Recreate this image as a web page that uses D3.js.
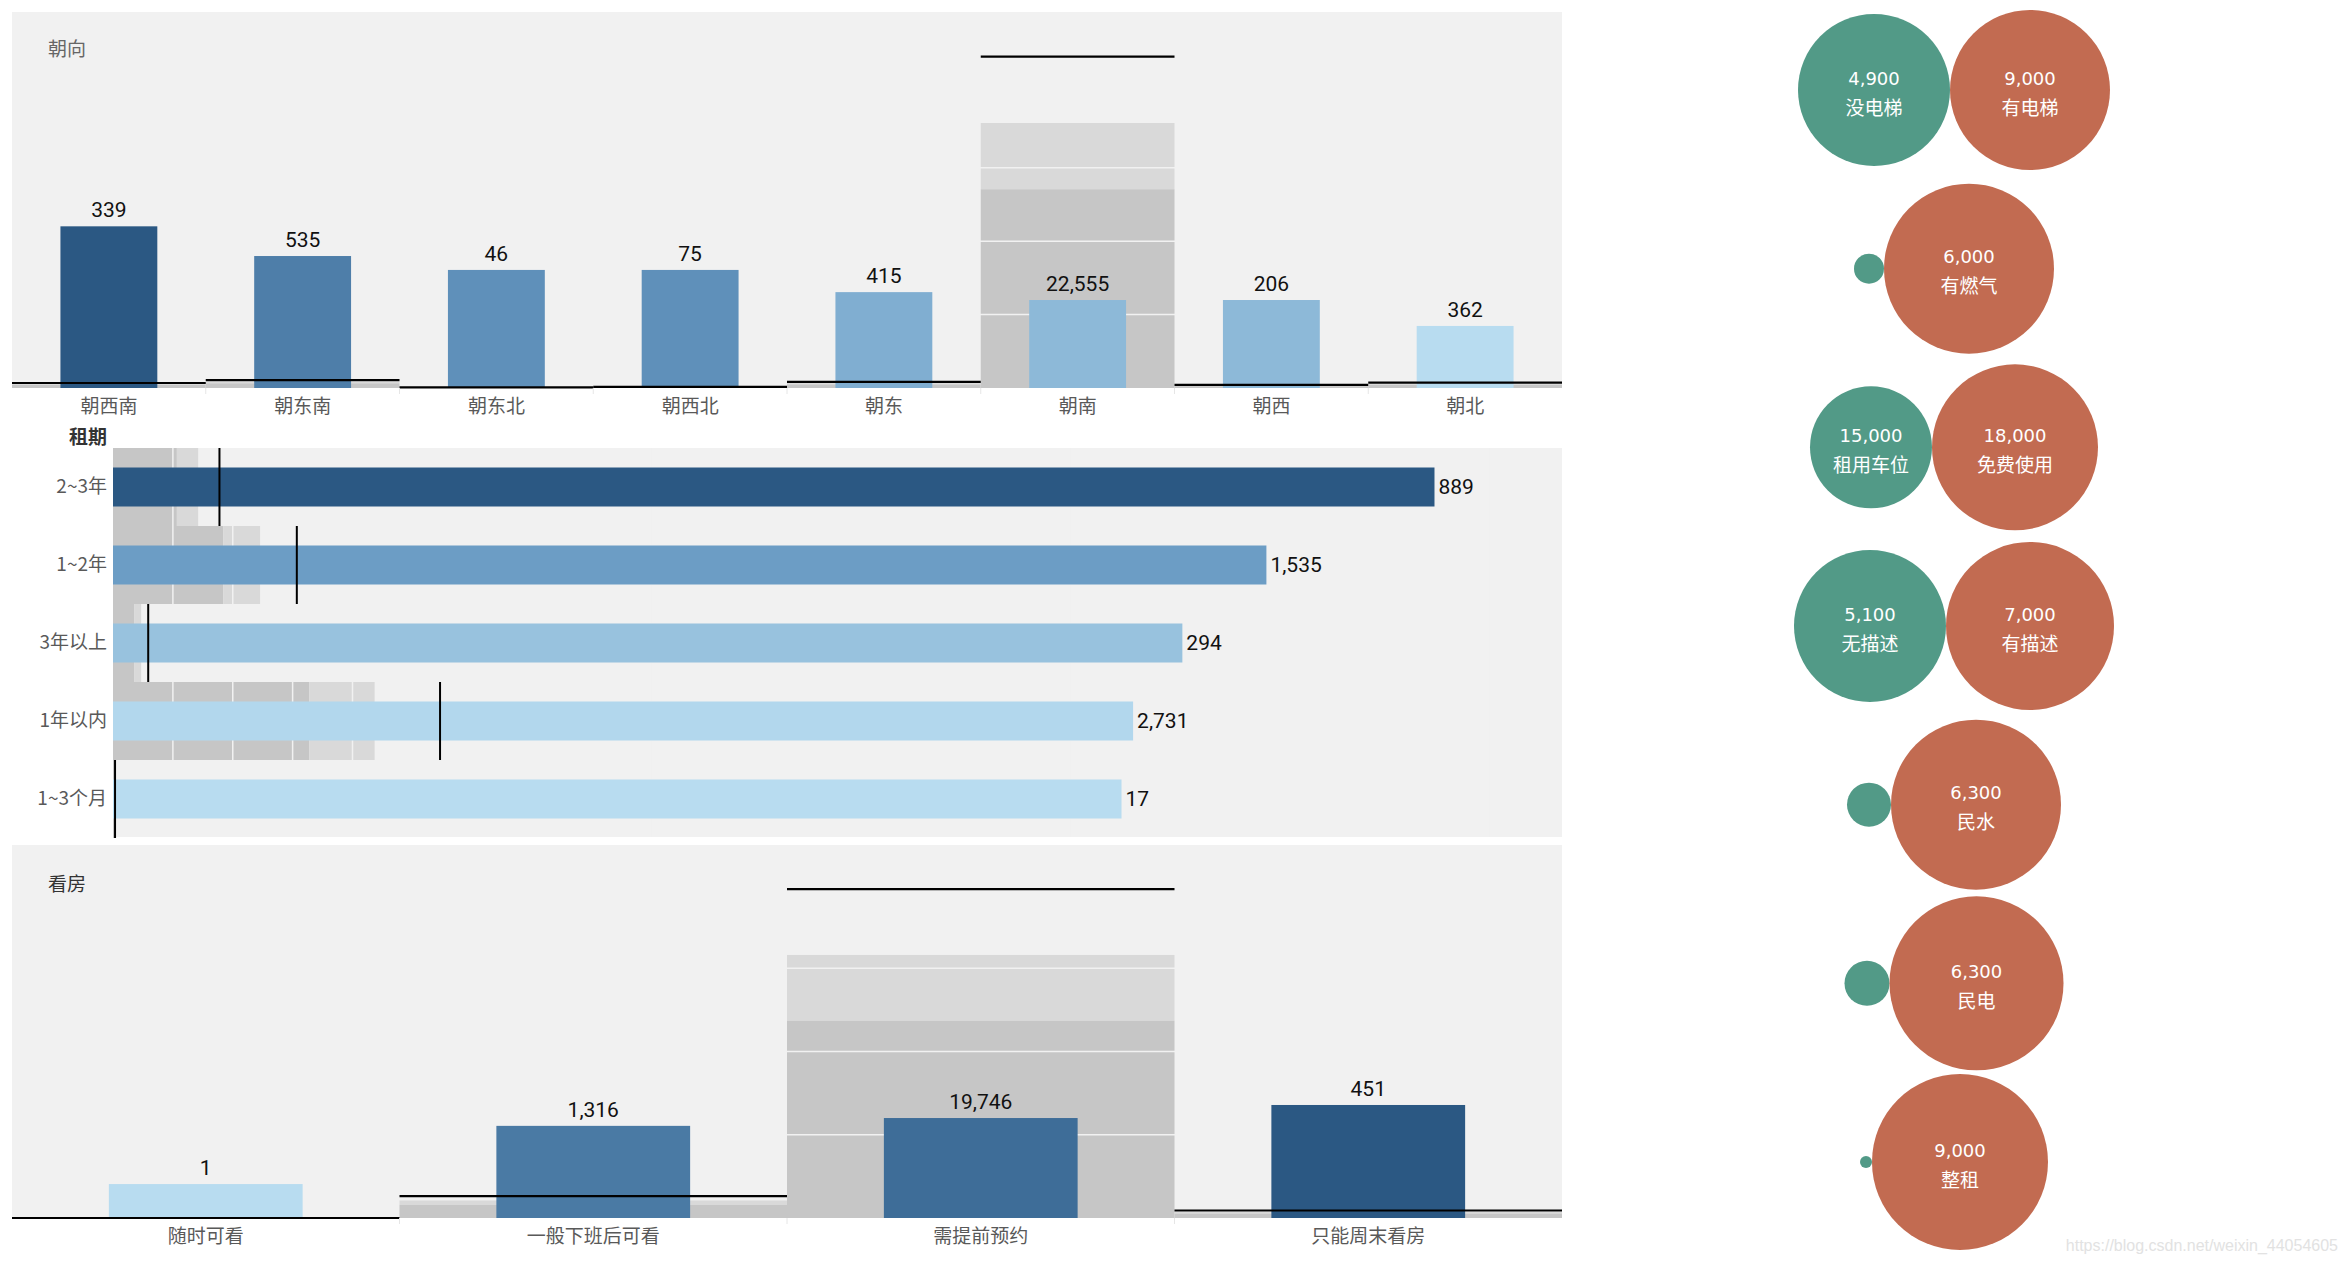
<!DOCTYPE html>
<html>
<head>
<meta charset="utf-8">
<script src="https://cdn.jsdelivr.net/npm/d3@7"></script>
<style>
  html, body { margin: 0; padding: 0; background: #ffffff; }
  svg { display: block; }
</style>
</head>
<body>
<svg id="chart" width="2349" height="1262"></svg>
<script>
// ---------------- DATA ----------------
// 朝向 (orientation)
const orientCats  = ['朝西南','朝东南','朝东北','朝西北','朝东','朝南','朝西','朝北'];
const orientCount = [339, 535, 46, 75, 415, 22555, 206, 362];          // labels / reference line
const orientRent  = [2150, 1755, 1570, 1570, 1275, 1170, 1170, 825];   // bar measure

// 租期 (lease term)
const termCats  = ['2~3年','1~2年','3年以上','1年以内','1~3个月'];
const termCount = [889, 1535, 294, 2731, 17];
const termRent  = [4560, 3980, 3690, 3520, 3480];

// 看房 (viewing)
const viewCats  = ['随时可看','一般下班后可看','需提前预约','只能周末看房'];
const viewCount = [1, 1316, 19746, 451];
const viewRent  = [455, 1235, 1340, 1515];

// bubbles
const bubbleRows   = ['电梯','燃气','车位','描述','水','电','租赁方式'];
const tealLabels   = ['没电梯','无燃气','租用车位','无描述','商水','商电','合租'];
const tealValues   = [4900, null, 15000, 5100, null, null, null];
const tealSizes    = [18650, 726, 12010, 18650, 1563, 1634, 116];
const orangeLabels = ['有电梯','有燃气','免费使用','有描述','民水','民电','整租'];
const orangeValues = [9000, 6000, 18000, 7000, 6300, 6300, 9000];
const orangeSizes  = [20660, 23325, 22240, 22780, 23325, 24435, 25000];

// ---------------- STYLE ----------------
const PANEL_BG = '#f1f1f1', BAND_DARK = '#c6c6c6', BAND_LIGHT = '#d9d9d9', GRID = '#f1f1f1';
const CJK = '"Noto Sans CJK SC", sans-serif';
const NUM = 'Roboto, sans-serif';
const fmt = d3.format(',');
const colorFor = vals => {
  const mn = d3.min(vals), mx = d3.max(vals);
  return d3.scaleLinear().domain([mn, (mn + mx) / 2, mx])
    .range(['#b8dcf0', '#6698c2', '#2b5883']);
};

const svg = d3.select('#chart');

// ---------------- Vertical bullet panel helper ----------------
function verticalPanel(cats, counts, rents, opt) {
  const g = svg.append('g');
  const x = d3.scaleBand().domain(cats).range([opt.x0, opt.x1]);
  const yC = d3.scaleLinear().domain([0, opt.countMax]).range([opt.y1, opt.y0]);
  const yR = d3.scaleLinear().domain([0, opt.rentMax]).range([opt.y1, opt.y0]);
  const col = colorFor(rents);
  const bw = x.bandwidth();
  const data = cats.map((c, i) => ({ c, n: counts[i], r: rents[i] }));

  g.append('rect').attr('x', opt.x0).attr('y', opt.y0)
    .attr('width', opt.x1 - opt.x0).attr('height', opt.y1 - opt.y0).attr('fill', PANEL_BG);

  // bands 60% / 80%
  g.selectAll('.bl').data(data).join('rect')
    .attr('x', d => x(d.c)).attr('width', bw)
    .attr('y', d => yC(d.n * 0.8)).attr('height', d => yC(d.n * 0.6) - yC(d.n * 0.8))
    .attr('fill', BAND_LIGHT);
  g.selectAll('.bd').data(data).join('rect')
    .attr('x', d => x(d.c)).attr('width', bw)
    .attr('y', d => yC(d.n * 0.6)).attr('height', d => yC(0) - yC(d.n * 0.6))
    .attr('fill', BAND_DARK);

  // gridlines
  g.selectAll('.gl').data(yC.ticks(opt.gridCount).filter(t => t > 0)).join('line')
    .attr('x1', opt.x0).attr('x2', opt.x1)
    .attr('y1', d => yC(d)).attr('y2', d => yC(d))
    .attr('stroke', GRID).attr('stroke-width', 1.5);

  // bars
  g.selectAll('.bar').data(data).join('rect')
    .attr('x', d => x(d.c) + bw / 4).attr('width', bw / 2)
    .attr('y', d => yR(d.r)).attr('height', d => yR(0) - yR(d.r))
    .attr('fill', d => col(d.r));

  // reference lines
  g.selectAll('.ref').data(data).join('line')
    .attr('x1', d => x(d.c)).attr('x2', d => x(d.c) + bw)
    .attr('y1', d => yC(d.n)).attr('y2', d => yC(d.n))
    .attr('stroke', '#000').attr('stroke-width', 2.2);

  // value labels
  g.selectAll('.vl').data(data).join('text')
    .attr('x', d => x(d.c) + bw / 2).attr('y', d => yR(d.r) - 16)
    .attr('text-anchor', 'middle').attr('dominant-baseline', 'central')
    .attr('font-family', NUM).attr('font-size', 21).attr('fill', '#111')
    .text(d => fmt(d.n));

  // separators under axis
  g.selectAll('.sep').data(cats.slice(1)).join('line')
    .attr('x1', d => x(d)).attr('x2', d => x(d))
    .attr('y1', opt.y1).attr('y2', opt.y1 + 6)
    .attr('stroke', '#e6e6e6').attr('stroke-width', 1);

  // axis
  const ax = g.append('g').attr('transform', `translate(0,${opt.y1})`)
    .call(d3.axisBottom(x).tickSize(0).tickPadding(12));
  ax.select('.domain').remove();
  ax.selectAll('text').attr('font-family', CJK).attr('font-size', 19).attr('fill', '#595959');

  // title
  g.append('text').attr('x', 48).attr('y', opt.titleY)
    .attr('dominant-baseline', 'central')
    .attr('font-family', CJK).attr('font-size', 19).attr('fill', opt.titleColor)
    .text(opt.title);
}

verticalPanel(orientCats, orientCount, orientRent, {
  x0: 12, x1: 1562, y0: 12, y1: 388, countMax: 25600, rentMax: 5000,
  gridCount: 5, title: '朝向', titleY: 47, titleColor: '#666'
});

verticalPanel(viewCats, viewCount, viewRent, {
  x0: 12, x1: 1562, y0: 845, y1: 1218, countMax: 22400, rentMax: 5000,
  gridCount: 4, title: '看房', titleY: 882, titleColor: '#333'
});

// ---------------- Horizontal bullet panel (租期) ----------------
(function () {
  const g = svg.append('g');
  const x0 = 113, x1 = 1562, y0 = 448, y1 = 838;
  const y = d3.scaleBand().domain(termCats).range([y0, y1]);
  const xC = d3.scaleLinear().domain([0, 12100]).range([x0, x1]);
  const xR = d3.scaleLinear().domain([0, 5000]).range([x0, x1]);
  const col = colorFor(termRent);
  const bh = y.bandwidth();
  const data = termCats.map((c, i) => ({ c, n: termCount[i], r: termRent[i] }));

  g.append('rect').attr('x', x0).attr('y', y0).attr('width', x1 - x0).attr('height', y1 - y0 - 1)
    .attr('fill', PANEL_BG);

  g.selectAll('.bd').data(data).join('rect')
    .attr('y', d => y(d.c)).attr('height', bh)
    .attr('x', x0).attr('width', d => xC(d.n * 0.6) - x0).attr('fill', BAND_DARK);
  g.selectAll('.bl').data(data).join('rect')
    .attr('y', d => y(d.c)).attr('height', bh)
    .attr('x', d => xC(d.n * 0.6)).attr('width', d => xC(d.n * 0.8) - xC(d.n * 0.6))
    .attr('fill', BAND_LIGHT);

  g.selectAll('.gl').data(d3.range(500, 12100, 500)).join('line')
    .attr('x1', d => xC(d)).attr('x2', d => xC(d))
    .attr('y1', y0).attr('y2', y1 - 1)
    .attr('stroke', GRID).attr('stroke-width', 1.5);

  g.selectAll('.bar').data(data).join('rect')
    .attr('y', d => y(d.c) + bh / 4).attr('height', bh / 2)
    .attr('x', x0).attr('width', d => xR(d.r) - x0)
    .attr('fill', d => col(d.r));

  g.selectAll('.ref').data(data).join('line')
    .attr('x1', d => xC(d.n)).attr('x2', d => xC(d.n))
    .attr('y1', d => y(d.c)).attr('y2', d => y(d.c) + bh)
    .attr('stroke', '#000').attr('stroke-width', 2);

  g.selectAll('.vl').data(data).join('text')
    .attr('x', d => xR(d.r) + 4).attr('y', d => y(d.c) + bh / 2)
    .attr('dominant-baseline', 'central')
    .attr('font-family', NUM).attr('font-size', 21).attr('fill', '#111')
    .text(d => fmt(d.n));

  const ax = g.append('g').attr('transform', `translate(${x0},0)`)
    .call(d3.axisLeft(y).tickSize(0).tickPadding(6));
  ax.select('.domain').remove();
  ax.selectAll('text').attr('font-family', CJK).attr('font-size', 19).attr('fill', '#595959');

  g.append('text').attr('x', x0 - 6).attr('y', 435)
    .attr('text-anchor', 'end').attr('dominant-baseline', 'central')
    .attr('font-family', CJK).attr('font-size', 19).attr('font-weight', 'bold').attr('fill', '#333')
    .text('租期');
})();

// ---------------- Bubbles ----------------
(function () {
  const g = svg.append('g');
  const yRow = d3.scalePoint().domain(bubbleRows).range([90, 1162]);
  const r = d3.scaleSqrt().domain([0, 25000]).range([0, 88]);
  const cxMid = 1954;
  const items = [];
  bubbleRows.forEach((row, i) => {
    const rt = r(tealSizes[i]), ro = r(orangeSizes[i]);
    const left = cxMid - (rt + ro);
    items.push({ cx: left + rt, cy: yRow(row), r: rt, fill: '#529a87', label: tealLabels[i], value: tealValues[i] });
    items.push({ cx: left + 2 * rt + ro, cy: yRow(row), r: ro, fill: '#c26b51', label: orangeLabels[i], value: orangeValues[i] });
  });
  g.selectAll('circle').data(items).join('circle')
    .attr('cx', d => d.cx).attr('cy', d => d.cy).attr('r', d => d.r).attr('fill', d => d.fill);
  const shown = items.filter(d => d.r > 40 && d.value != null);
  g.selectAll('.bv').data(shown).join('text')
    .attr('x', d => d.cx).attr('y', d => d.cy - 12)
    .attr('text-anchor', 'middle').attr('dominant-baseline', 'central')
    .attr('font-family', '"DejaVu Sans", sans-serif').attr('font-size', 18).attr('fill', '#fff')
    .text(d => fmt(d.value));
  g.selectAll('.bn').data(shown).join('text')
    .attr('x', d => d.cx).attr('y', d => d.cy + 16)
    .attr('text-anchor', 'middle').attr('dominant-baseline', 'central')
    .attr('font-family', CJK).attr('font-size', 19).attr('fill', '#fff')
    .text(d => d.label);
})();

// watermark
svg.append('text').attr('x', 2338).attr('y', 1245)
  .attr('text-anchor', 'end').attr('dominant-baseline', 'central')
  .attr('font-family', '"Liberation Sans", Arial, sans-serif').attr('font-size', 16)
  .attr('fill', '#e2e2e2').text('https://blog.csdn.net/weixin_44054605');
</script>
</body>
</html>
